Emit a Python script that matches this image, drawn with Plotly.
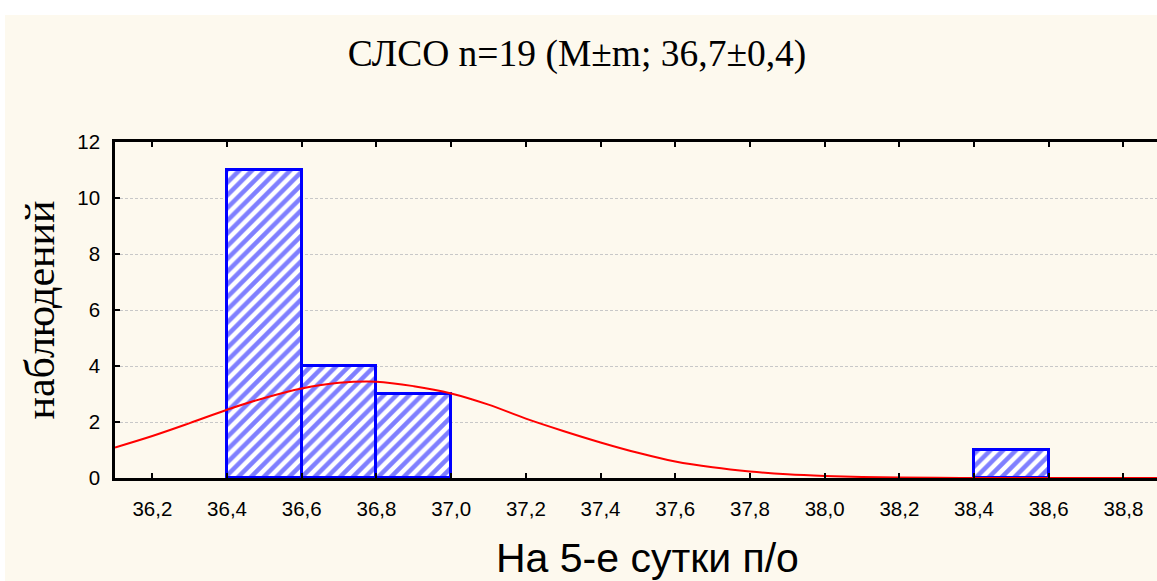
import plotly.graph_objects as go

# Histogram bins (left edges, width 0.2) and counts
bin_left = [36.4, 36.6, 36.8, 38.4]
bin_width = 0.2
counts = [11, 4, 3, 1]

# Fitted normal curve
curve_x = [36.1, 36.2, 36.3, 36.4, 36.5, 36.6, 36.7, 36.8, 36.9, 37.0,
           37.1, 37.2, 37.3, 37.4, 37.5, 37.6, 37.7, 37.8, 37.9, 38.0,
           38.1, 38.2, 38.3, 38.4, 38.5, 38.6, 38.7, 38.8, 38.9]
curve_y = [1.09, 1.50, 1.96, 2.44, 2.86, 3.20, 3.40, 3.44, 3.28, 3.02,
           2.62, 2.12, 1.68, 1.27, 0.90, 0.59, 0.38, 0.23, 0.13, 0.07,
           0.035, 0.015, 0.006, 0.002, 0.0, 0.0, 0.0, 0.0, 0.0]

x_tickvals = [36.2, 36.4, 36.6, 36.8, 37.0, 37.2, 37.4, 37.6, 37.8, 38.0,
              38.2, 38.4, 38.6, 38.8]
x_ticktext = ["36,2", "36,4", "36,6", "36,8", "37,0", "37,2", "37,4", "37,6",
              "37,8", "38,0", "38,2", "38,4", "38,6", "38,8"]
y_tickvals = [0, 2, 4, 6, 8, 10, 12]

title_text = "СЛСО n=19 (M±m; 36,7±0,4)"
x_title = "На 5-е сутки п/о"
y_title = "наблюдений"

W, H = 1157, 581
L, T, B = 115, 142, 478
R = 1157
x_range = [36.1, 36.1 + (R - L) / 373.5]

bin_centers = [b + bin_width / 2 for b in bin_left]

fig = go.Figure()
fig.add_trace(go.Bar(
    x=bin_centers, y=counts, width=[bin_width] * len(counts),
    marker=dict(color="white",
                line=dict(color="#0000ff", width=3),
                pattern=dict(shape="/", fgcolor="#0000ff", bgcolor="white",
                             size=9, solidity=0.5)),
    showlegend=False, hoverinfo="skip",
))
fig.add_trace(go.Scatter(
    x=curve_x, y=curve_y, mode="lines",
    line=dict(color="#ff0000", width=2, shape="spline"),
    showlegend=False, hoverinfo="skip", cliponaxis=True,
))

# cream page background (leaving a thin white strip at top and left)
fig.add_shape(type="rect", xref="paper", yref="paper", layer="below",
              x0=(5 - L) / (W - L), x1=1.05,
              y0=-(H - B) / (B - T), y1=1 + (T - 15) / (B - T),
              fillcolor="#fdf9ee", line=dict(width=0))

# x-axis title as an annotation (placed like the reference)
fig.add_annotation(text=x_title, xref="paper", yref="paper",
                   x=(647 - L) / (W - L), y=-(558 - B) / (B - T),
                   xanchor="center", yanchor="middle", showarrow=False,
                   font=dict(family="Liberation Sans, Arial, sans-serif",
                             size=41, color="black"))

fig.update_layout(
    width=W, height=H,
    margin=dict(l=L, r=W - R, t=T, b=H - B, pad=0, autoexpand=False),
    paper_bgcolor="white", plot_bgcolor="white",
    bargap=0,
    title=dict(text=title_text, x=577 / W, xanchor="center", xref="container",
               y=1 - 53 / H, yanchor="middle",
               font=dict(family="Liberation Serif, Times New Roman, serif",
                         size=37.5, color="black")),
    xaxis=dict(range=x_range, tickmode="array", tickvals=x_tickvals,
               ticktext=x_ticktext, ticks="inside", ticklen=5, tickwidth=2,
               tickcolor="black", mirror="ticks", showline=True,
               linecolor="black", linewidth=2.5, showgrid=False,
               zeroline=False, automargin=False,
               tickfont=dict(family="Liberation Sans, Arial, sans-serif",
                             size=20.5, color="black"),
               ticklabelstandoff=11),
    yaxis=dict(range=[0, 12], tickmode="array", tickvals=y_tickvals,
               ticks="inside", ticklen=5, tickwidth=2, tickcolor="black",
               mirror=False, showline=True, linecolor="black", linewidth=2.5,
               showgrid=True, gridcolor="#c8c8c8", gridwidth=1,
               griddash="3px,2px", zeroline=False, automargin=False,
               tickfont=dict(family="Liberation Sans, Arial, sans-serif",
                             size=20.5, color="black"),
               ticklabelstandoff=8,
               title=dict(text=y_title, standoff=10,
                          font=dict(family="Liberation Serif, Times New Roman, serif",
                                    size=42, color="black"))),
)

fig.write_html("out.html")
